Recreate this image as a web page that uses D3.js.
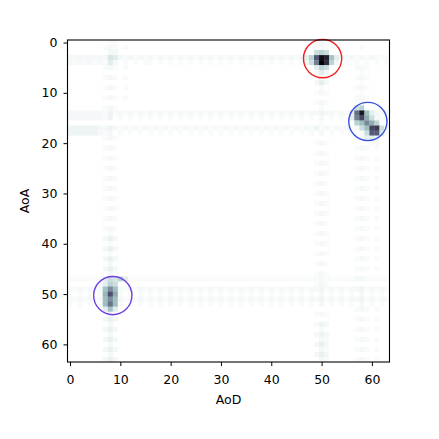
<!DOCTYPE html>
<html>
<head>
<meta charset="utf-8">
<script src="https://cdn.jsdelivr.net/npm/d3@7"></script>
<style>
  body { margin: 0; background: #fff; }
  text { font-family: "DejaVu Sans", sans-serif; }
</style>
</head>
<body>
<svg id="chart"></svg>
<script>
// one string per AoA row, one char per AoD column: "." = 0 ... "Z" = max
let levelChars = ".123456789abcdefghijklmnopqrstuvwxyzABCDEFGHIJKLMNOPQRSTUVWXYZ";

let gridRows = [
  "........ 11...... ........ ........ ........ ........ .121.... ........",
  ".......1 21.1.... ........ ........ ........ ........ .121.... ..1.....",
  "........ 22...... ........ ........ ........ ........ .9c9.... ........",
  "22222222 75212121 21212121 21212121 21212121 21212125 cBVQg521 21212111",
  "21212121 52.1.1.1 1.1.1.1. 1.1.1.1. 1.1.1.1. 1.1.1.12 9uZNc2.1 .1.1.1.1",
  ".......1 21.1.... ........ ........ ........ ........ .5c9.... .121....",
  "........ ........ ........ ........ ........ ........ .252.... ..1.....",
  ".......1 21.1.... ........ ........ ........ ........ ..1..... .121....",
  "........ ........ ........ ........ ........ ........ .252.... ..1.....",
  ".......1 21.1.... ........ ........ ........ ........ ..1..... .121....",
  "........ ........ ........ ........ ........ ........ .121.... ..1.....",
  ".......1 21.1.... ........ ........ ........ ........ ........ .121....",
  "........ ........ ........ ........ ........ ........ .121.... .12.....",
  ".......1 21...... ........ ........ ........ ........ ..1..... .9c.....",
  "22222221 31212121 21212121 21212121 21212121 21212121 22322121 5xSh5212",
  "22222221 3.1.1.1. 1.1.1.1. 1.1.1.1. 1.1.1.1. 1.1.1.1. 1.2.1.1. 5uGl9211",
  "........ ........ ........ ........ ........ ........ ..1..... .chslc..",
  "33333322 32121212 12121212 12121212 12121212 12121212 13121212 129hGJ91",
  "33333321 2.1.1.1. 1.1.1.1. 1.1.1.1. 1.1.1.1. 1.1.1.1. 1.2.1.1. 1.19BB7.",
  ".......1 21...... ........ ........ ........ ........ ........ .12553..",
  "........ ........ ........ ........ ........ ........ .121.... ....11..",
  ".......1 21...... ........ ........ ........ ........ ........ .121.1..",
  "........ ........ ........ ........ ........ ........ .121.... ........",
  ".......1 21...... ........ ........ ........ ........ ........ .121.1..",
  "........ ........ ........ ........ ........ ........ .121.... ........",
  ".......1 21...... ........ ........ ........ ........ ........ .121.1..",
  "........ ........ ........ ........ ........ ........ .121.... ........",
  ".......1 21...... ........ ........ ........ ........ ........ .121.1..",
  "........ ........ ........ ........ ........ ........ .121.... ........",
  ".......1 21...... ........ ........ ........ ........ ........ .121.1..",
  "........ ........ ........ ........ ........ ........ .121.... ........",
  ".......1 21...... ........ ........ ........ ........ ........ .121.1..",
  "........ ........ ........ ........ ........ ........ .121.... ........",
  ".......1 21...... ........ ........ ........ ........ ........ .121.1..",
  "........ ........ ........ ........ ........ ........ .121.... ........",
  ".......1 21...... ........ ........ ........ ........ ........ .121.1..",
  "........ ........ ........ ........ ........ ........ .121.... ........",
  ".......1 21...... ........ ........ ........ ........ ........ .121.1..",
  "........ 1....... ........ ........ ........ ........ .121.... ........",
  ".......2 42...... ........ ........ ........ ........ ........ .121.1..",
  "........ 1....... ........ ........ ........ ........ .121.... ........",
  ".......2 42...... ........ ........ ........ ........ ........ .121.1..",
  "........ 1....... ........ ........ ........ ........ .121.... ........",
  ".......2 42...... ........ ........ ........ ........ ........ .121.1..",
  "........ 2....... ........ ........ ........ ........ .121.... ........",
  ".......2 42...... ........ ........ ........ ........ ........ .121.1..",
  "........ 2....... ........ ........ ........ ........ .121.... ........",
  "11111115 97c51111 11111111 11111111 11111111 11111111 11211111 12211111",
  "......15 c9...... ........ ........ ........ ........ .121.... ........",
  "2121212g rh212121 21212121 21212121 21212121 21212121 22312121 22312121",
  "1.1.1.1j Dl1.1.1. 1.1.1.1. 1.1.1.1. 1.1.1.1. 1.1.1.1. 1.2.1.1. 1.2.1.1.",
  "2121212h rh212121 21212121 21212121 21212121 21212121 22312121 22312121",
  "1.1.1.1h wh1.1.1. 1.1.1.1. 1.1.1.1. 1.1.1.1. 1.1.1.1. 1.2.1.1. 1.2.1.1.",
  ".......5 g5...... ........ ........ ........ ........ ........ .121.1..",
  "........ 2....... ........ ........ ........ ........ .121.... ........",
  ".......2 42...... ........ ........ ........ ........ ........ .121.1..",
  "........ 2....... ........ ........ ........ ........ .132.... ........",
  ".......2 42...... ........ ........ ........ ........ ..1..... .121.1..",
  "........ 2....... ........ ........ ........ ........ .232.... ........",
  ".......2 42...... ........ ........ ........ ........ ..21.... .121.1..",
  "........ 2....... ........ ........ ........ ........ .242.... ........",
  ".......2 42...... ........ ........ ........ ........ ..21.... .121.1..",
  "........ 2....... ........ ........ ........ ........ .242.... ........",
  ".......2 42...... ........ ........ ........ ........ ..21.... .121.1.."
];

let xTicks = [0, 10, 20, 30, 40, 50, 60];
let yTicks = [0, 10, 20, 30, 40, 50, 60];

// detected paths (AoD, AoA, radius in bins)
let circleAoD = [50.2, 59.2, 8.5];
let circleAoA = [3.2, 15.7, 50.3];
let circleRadius = [3.8, 3.8, 3.8];
let circleColors = ["#ee2222", "#3550e2", "#6e3fe2"];

let width = 439;
let height = 439;
let plotLeft = 67.5, plotRight = 389.5, plotTop = 40, plotBottom = 362;

let svg = d3.select("#chart").attr("width", width).attr("height", height);

let maxLevel = levelChars.length - 1;
let cells = [];
gridRows.forEach((row, r) => {
    row.replace(/ /g, "").split("").forEach((ch, c) => {
        cells.push({ row: r, col: c, v: levelChars.indexOf(ch) / maxLevel });
    });
});

let xScale = d3.scaleLinear().domain([-0.5, 63.5]).range([plotLeft, plotRight]);
let yScale = d3.scaleLinear().domain([-0.5, 63.5]).range([plotTop, plotBottom]);

// matplotlib "bone" colormap, reversed
let bone = d3.scaleLinear()
    .domain([0, 0.365, 0.746, 1])
    .range(["rgb(0,0,0)", "rgb(81,81,113)", "rgb(166,198,198)", "rgb(255,255,255)"]);
let colour = (v) => bone(1 - v);

svg.append("g")
    .selectAll("rect")
    .data(cells)
    .enter()
    .append("rect")
    .attr("x", (d) => xScale(d.col - 0.5))
    .attr("y", (d) => yScale(d.row - 0.5))
    .attr("width", (d) => xScale(d.col + 0.5) - xScale(d.col - 0.5) + 0.3)
    .attr("height", (d) => yScale(d.row + 0.5) - yScale(d.row - 0.5) + 0.3)
    .attr("fill", (d) => colour(d.v));

svg.append("g")
    .selectAll("circle")
    .data(circleAoD)
    .enter()
    .append("circle")
    .attr("cx", (d) => xScale(d))
    .attr("cy", (d, i) => yScale(circleAoA[i]))
    .attr("r", (d, i) => xScale(circleRadius[i]) - xScale(0))
    .attr("fill", "none")
    .attr("stroke", (d, i) => circleColors[i])
    .attr("stroke-width", 1.4);

// frame
svg.append("rect")
    .attr("x", plotLeft)
    .attr("y", plotTop)
    .attr("width", plotRight - plotLeft)
    .attr("height", plotBottom - plotTop)
    .attr("fill", "none")
    .attr("stroke", "#000")
    .attr("stroke-width", 1.1);

let xAxis = svg.append("g")
    .attr("transform", "translate(0," + plotBottom + ")")
    .call(d3.axisBottom(xScale).tickValues(xTicks).tickSize(4).tickPadding(9));
let yAxis = svg.append("g")
    .attr("transform", "translate(" + plotLeft + ",0)")
    .call(d3.axisLeft(yScale).tickValues(yTicks).tickSize(4).tickPadding(6));

[xAxis, yAxis].forEach((g) => {
    g.select(".domain").remove();
    g.selectAll(".tick line").attr("stroke", "#000").attr("stroke-width", 1);
    g.selectAll(".tick text")
        .attr("fill", "#000")
        .style("font-size", "12.5px")
        .style("font-family", "DejaVu Sans, sans-serif");
});

svg.append("text")
    .attr("x", (plotLeft + plotRight) / 2)
    .attr("y", 404)
    .attr("text-anchor", "middle")
    .style("font-size", "12.5px")
    .text("AoD");

svg.append("text")
    .attr("transform", "translate(28.5," + (plotTop + plotBottom) / 2 + ") rotate(-90)")
    .attr("text-anchor", "middle")
    .style("font-size", "12.5px")
    .text("AoA");
</script>
</body>
</html>
